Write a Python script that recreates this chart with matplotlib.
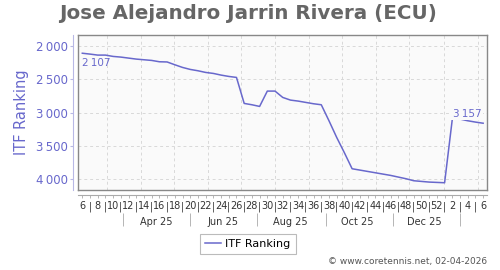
import datetime as dt
import matplotlib
matplotlib.use("Agg")
from matplotlib import pyplot as plt

# weekly ITF ranking, ISO week 6 of 2025 to week 6 of 2026
weeks = [6, 7, 8, 9, 10, 11, 12, 13, 14, 15, 16, 17, 18, 19, 20, 21, 22, 23, 24, 25,
         26, 27, 28, 29, 30, 31, 32, 33, 34, 35, 36, 37, 38, 39, 40, 41, 42, 43, 44, 45,
         46, 47, 48, 49, 50, 51, 52, 1, 2, 3, 4, 5, 6]
ranking = [2107, 2120, 2135, 2135, 2155, 2165, 2180, 2195, 2205, 2215,
           2235, 2238, 2280, 2320, 2350, 2370, 2395, 2410, 2435, 2455,
           2470, 2860, 2880, 2905, 2675, 2675, 2770, 2810, 2825, 2845,
           2865, 2880, 3120, 3370, 3600, 3840, 3860, 3880, 3900, 3920,
           3940, 3965, 3990, 4020, 4030, 4040, 4045, 4050, 3095, 3095,
           3120, 3140, 3157]
month_labels = ["Apr 25", "Jun 25", "Aug 25", "Oct 25", "Dec 25"]
y_ticks = [2000, 2500, 3000, 3500, 4000]

start = dt.date(2025, 2, 7)

def pos(d):
    # date -> position in weeks from the first point
    return (d - start).days / 7.0

purple = "#6868cc"
gray = "#888888"

fig = plt.figure(figsize=(5, 2.7), dpi=100)
ax = fig.add_axes([0.156, 0.296, 0.818, 0.574])
ax.set_facecolor("#fafafa")

x = list(range(len(ranking)))
ax.plot(x, ranking, color=purple, lw=1.1, zorder=3)

ax.set_xlim(-0.56, 52.5)
ax.set_ylim(4160, 1835)

# grid: monthly verticals, dashed horizontals
month_starts = [dt.date(2025, m, 1) for m in range(3, 13)] + [dt.date(2026, 1, 1), dt.date(2026, 2, 1)]
for d in month_starts:
    ax.axvline(pos(d), color="#d8d8d8", lw=0.7, ls=(0, (3, 3)), zorder=1)
for v in y_ticks:
    ax.axhline(v, color="#d8d8d8", lw=0.7, ls=(0, (3, 3)), zorder=1)

ax.set_xticks([])
ax.set_yticks([])
for s in ax.spines.values():
    s.set_color(gray)
    s.set_linewidth(1)

# point labels
ax.text(x[0], ranking[0] + 140, f"{ranking[0]:,}".replace(",", "\u2009"),
        color=purple, fontsize=7.5, ha="left", va="center", zorder=4)
ax.text(x[-1] - 0.2, ranking[-1] - 140, f"{ranking[-1]:,}".replace(",", "\u2009"),
        color=purple, fontsize=7.5, ha="right", va="center", zorder=4,
        bbox=dict(boxstyle="square,pad=0.15", fc="#fafafa", ec="none"))

# y axis, detached purple line
yax = ax.secondary_yaxis(-0.012)
yax.set_yticks(y_ticks, [f"{v:,}".replace(",", "\u2009") for v in y_ticks])
yax.spines["left"].set_color("#b8b8e6")
yax.tick_params(axis="y", colors=purple, labelsize=8.5, length=2, width=0.8, pad=2)
yax.tick_params(axis="y", color="#b8b8e6")
yax.set_ylabel("ITF Ranking", color=purple, fontsize=10.5, labelpad=5)

# week row
wax = ax.secondary_xaxis(-0.032)
wax.set_xticks(x, [str(w) if w % 2 == 0 else "|" for w in weeks])
wax.spines["bottom"].set_color("#aaaaaa")
wax.tick_params(axis="x", length=2, width=0.6, color="#aaaaaa", labelsize=7, pad=2.5, labelcolor="#333333")

# month row
label_pos = [pos(dt.date(2025, m, 15)) for m in (4, 6, 8, 10, 12)]
sep_pos = [pos(dt.date(2025, m, 16)) for m in (3, 5, 7, 9, 11)] + [pos(dt.date(2026, 1, 16))]
max_ = ax.secondary_xaxis(-0.145)
max_.spines["bottom"].set_visible(False)
max_.set_xticks(sep_pos, [""] * len(sep_pos))
max_.set_xticks(label_pos, month_labels, minor=True)
max_.tick_params(axis="x", which="major", length=9, width=0.6, color="#aaaaaa", direction="out")
max_.tick_params(axis="x", which="minor", length=0, labelsize=7, pad=3, labelcolor="#333333")

fig.suptitle("Jose Alejandro Jarrin Rivera (ECU)", x=0.496, y=0.985,
             fontsize=14.3, fontweight="bold", color="#666666")

leg = fig.legend(["ITF Ranking"], loc="center", bbox_to_anchor=(0.496, 0.096),
                 fontsize=8, frameon=True, fancybox=False, handlelength=1.4,
                 handletextpad=0.4, borderpad=0.45)
leg.get_frame().set_edgecolor("#aaaaaa")
leg.get_frame().set_linewidth(0.8)

fig.text(0.974, 0.03, "\u00a9 www.coretennis.net, 02-04-2026", ha="right", va="center",
         fontsize=6.5, color="#555555")

fig.savefig("out.png", dpi=100)
